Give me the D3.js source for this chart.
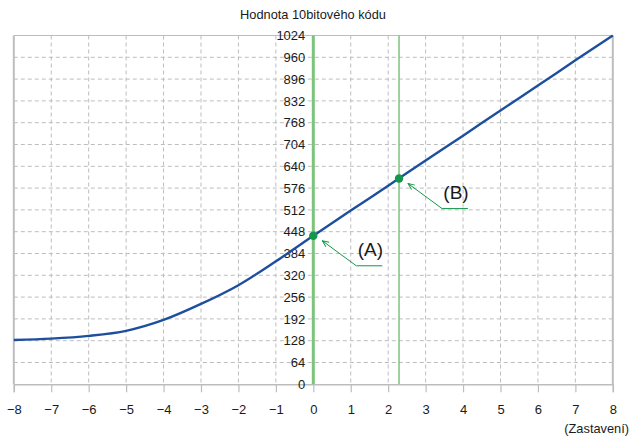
<!DOCTYPE html>
<html>
<head>
<meta charset="utf-8">
<script src="https://cdn.jsdelivr.net/npm/d3@7"></script>
<style>
  html, body { margin: 0; padding: 0; background: #fff; }
  svg { display: block; }
  text { font-family: "Liberation Sans Narrow", "Arial Narrow", "Liberation Sans", Arial, sans-serif; }
</style>
</head>
<body>
<svg id="chart" width="634" height="436"></svg>
<script>
// Stop position (x) vs. 10-bit code value (y)
const stops = [-8, -7, -6, -5, -4, -3, -2, -1, 0, 1, 2, 3, 4, 5, 6, 7, 8];
const codeValues = [130, 134, 142, 157, 189, 236, 291, 361, 436, 510, 583, 657, 730, 804, 877, 951, 1024];
const yTicks = [0, 64, 128, 192, 256, 320, 384, 448, 512, 576, 640, 704, 768, 832, 896, 960, 1024];
const xTicks = d3.range(-8, 9);
const markerStops = [0, 2.29];
const markerValues = [436, 604];
const markerLabels = ["(A)", "(B)"];
const titleText = "Hodnota 10bitového kódu";
const xAxisText = "(Zastavení)";

const svg = d3.select("#chart");
const x = d3.scaleLinear().domain([-8, 8]).range([13.8, 612.8]);
const y = d3.scaleLinear().domain([0, 1024]).range([384.3, 35.5]);

const gridColor = "#bdbdbd";
const green = "#7cc47c";
const darkGreen = "#13974a";

// dashed grid
svg.append("g").selectAll("line").data(xTicks.slice(1, -1)).join("line")
  .attr("x1", d => x(d)).attr("x2", d => x(d))
  .attr("y1", y(1024)).attr("y2", y(0))
  .attr("stroke", gridColor).attr("stroke-width", 1).attr("stroke-dasharray", "4,3");
svg.append("g").selectAll("line").data(yTicks.slice(1, -1)).join("line")
  .attr("x1", x(-8)).attr("x2", x(8))
  .attr("y1", d => y(d)).attr("y2", d => y(d))
  .attr("stroke", gridColor).attr("stroke-width", 1).attr("stroke-dasharray", "4,3");

// frame
svg.append("line").attr("x1", x(-8)).attr("x2", x(8)).attr("y1", y(1024)).attr("y2", y(1024))
  .attr("stroke", gridColor).attr("stroke-width", 1.2);
svg.append("line").attr("x1", x(-8)).attr("x2", x(-8)).attr("y1", y(1024)).attr("y2", y(0))
  .attr("stroke", gridColor).attr("stroke-width", 2);
svg.append("line").attr("x1", x(8)).attr("x2", x(8)).attr("y1", y(1024)).attr("y2", y(0))
  .attr("stroke", gridColor).attr("stroke-width", 2);

// x axis
const xAxis = svg.append("g").attr("transform", `translate(0,${y(0)})`)
  .call(d3.axisBottom(x).tickValues(xTicks).tickSize(8).tickPadding(12).tickFormat(d3.format("d")));
xAxis.select(".domain").attr("stroke", gridColor).attr("stroke-width", 1.5);
xAxis.selectAll(".tick line").attr("stroke", gridColor).attr("stroke-width", 1.2);
xAxis.selectAll(".tick text")
  .attr("font-family", "'Liberation Sans Narrow', 'Arial Narrow', sans-serif")
  .attr("font-size", 13).attr("fill", "#1a1a1a");

// green reference lines
svg.append("line").attr("x1", x(0)).attr("x2", x(0)).attr("y1", y(1024)).attr("y2", y(0))
  .attr("stroke", green).attr("stroke-width", 3);
svg.append("line").attr("x1", x(markerStops[1])).attr("x2", x(markerStops[1])).attr("y1", y(1024)).attr("y2", y(0))
  .attr("stroke", green).attr("stroke-width", 1.5);

// y axis labels along the zero line
const yAxis = svg.append("g").attr("transform", `translate(${x(0) - 1},0)`)
  .call(d3.axisLeft(y).tickValues(yTicks).tickSize(0).tickPadding(7).tickFormat(d3.format("d")));
yAxis.select(".domain").remove();
yAxis.selectAll(".tick text")
  .attr("font-family", "'Liberation Sans Narrow', 'Arial Narrow', sans-serif")
  .attr("font-size", 13).attr("fill", "#1a1a1a");

// curve
const line = d3.line().x((d, i) => x(stops[i])).y(d => y(d)).curve(d3.curveMonotoneX);
svg.append("path").datum(codeValues)
  .attr("d", line).attr("fill", "none").attr("stroke", "#1d4f9e").attr("stroke-width", 2.4);

// open arrowhead pointing back toward the marked point
svg.append("defs").append("marker")
  .attr("id", "arrow").attr("viewBox", "0 0 10 10").attr("refX", 9).attr("refY", 5)
  .attr("markerUnits", "userSpaceOnUse")
  .attr("markerWidth", 8).attr("markerHeight", 8).attr("orient", "auto-start-reverse")
  .append("path").attr("d", "M1,1.5 L9,5 L1,8.5").attr("fill", "none")
  .attr("stroke", darkGreen).attr("stroke-width", 1.2);

// points and callouts
markerStops.forEach((s, i) => {
  const px = x(s), py = y(markerValues[i]);
  svg.append("path")
    .attr("d", `M${px + 9},${py + 5} L${px + 43},${py + 30} L${px + 69},${py + 30}`)
    .attr("fill", "none").attr("stroke", darkGreen).attr("stroke-width", 1)
    .attr("marker-start", "url(#arrow)");
  svg.append("circle").attr("cx", px).attr("cy", py).attr("r", 4.2).attr("fill", darkGreen);
  svg.append("text").attr("x", px + 57).attr("y", py + 14)
    .attr("text-anchor", "middle").attr("dominant-baseline", "central")
    .attr("font-family", "'Liberation Sans', Arial, sans-serif")
    .attr("font-size", 19).attr("fill", "#1a1a1a").text(markerLabels[i]);
});

// titles
svg.append("text").attr("x", 313).attr("y", 14).attr("text-anchor", "middle")
  .attr("dominant-baseline", "central")
  .attr("font-family", "'Liberation Sans', Arial, sans-serif")
  .attr("font-size", 12.8).attr("fill", "#1a1a1a").text(titleText);
svg.append("text").attr("x", 629).attr("y", 428).attr("text-anchor", "end")
  .attr("dominant-baseline", "central")
  .attr("font-family", "'Liberation Sans', Arial, sans-serif")
  .attr("font-size", 12.8).attr("fill", "#1a1a1a").text(xAxisText);
</script>
</body>
</html>
